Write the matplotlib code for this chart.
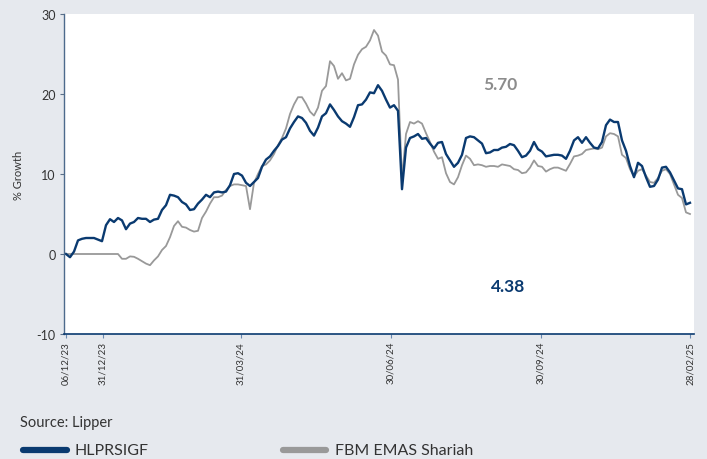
import numpy as np
import matplotlib
matplotlib.use('Agg')
import matplotlib.pyplot as plt
from matplotlib.lines import Line2D

# Crescimento acumulado (%) - leitura do gráfico, um ponto a cada ~1,6 dia útil
fund = [0.0, -0.4, 0.3, 1.7, 1.9, 2.0, 2.0, 2.0, 1.8, 1.6,
        3.6, 4.35, 4.0, 4.5, 4.2, 3.1, 3.8, 4.0, 4.5, 4.4,
        4.4, 4.0, 4.3, 4.4, 5.5, 6.1, 7.4, 7.3, 7.1, 6.5,
        6.2, 5.5, 5.6, 6.3, 6.8, 7.4, 7.1, 7.7, 7.8, 7.7,
        7.8, 8.6, 10.0, 10.1, 9.8, 8.9, 8.5, 9.0, 9.5, 10.9,
        11.8, 12.2, 12.9, 13.5, 14.3, 14.6, 15.7, 16.5, 17.2, 17.0,
        16.4, 15.4, 14.8, 15.8, 17.2, 17.6, 18.7, 18.0, 17.2, 16.6,
        16.3, 15.9, 17.1, 18.6, 18.7, 19.3, 20.2, 20.1, 21.1, 20.4,
        19.3, 18.3, 18.6, 17.9, 8.1, 13.3, 14.5, 14.7, 15.0, 14.4,
        14.5, 13.8, 13.2, 13.9, 14.0, 12.5, 11.7, 10.9, 11.4, 12.4,
        14.5, 14.7, 14.6, 14.2, 13.8, 12.6, 12.7, 13.0, 13.0, 13.3,
        13.4, 13.75, 13.6, 12.9, 12.1, 12.3, 12.9, 14.0, 13.1, 12.8,
        12.2, 12.3, 12.4, 12.4, 12.3, 11.9, 12.9, 14.2, 14.6, 13.9,
        14.6, 13.9, 13.3, 13.2, 14.0, 16.1, 16.8, 16.5, 16.5, 14.2,
        12.9, 11.0, 9.6, 11.4, 11.0, 9.6, 8.4, 8.5, 9.3, 10.8,
        10.9, 10.2, 9.2, 8.2, 8.1, 6.2, 6.4]

bench = [0.0, 0.0, 0.0, 0.0, 0.0, 0.0, 0.0, 0.0, 0.0, 0.0,
         0.0, 0.0, 0.0, 0.0, -0.6, -0.6, -0.3, -0.35, -0.6, -0.9,
         -1.2, -1.4, -0.8, -0.3, 0.5, 1.0, 2.1, 3.5, 4.1, 3.4,
         3.3, 3.0, 2.8, 2.9, 4.5, 5.3, 6.3, 7.1, 7.1, 7.3,
         8.0, 8.5, 8.7, 8.7, 8.6, 8.5, 5.6, 8.9, 10.0, 11.0,
         11.2, 11.7, 12.5, 13.6, 14.5, 15.7, 17.5, 18.7, 19.6, 19.6,
         18.8, 17.8, 17.3, 18.3, 20.4, 21.0, 24.1, 23.5, 21.9, 22.6,
         21.7, 21.9, 23.7, 24.9, 25.6, 25.9, 26.7, 28.0, 27.3, 25.3,
         24.8, 23.7, 23.6, 21.8, 9.3, 15.0, 16.5, 16.3, 16.6, 16.3,
         15.1, 14.0, 12.8, 11.9, 12.1, 10.1, 9.0, 8.7, 9.6, 11.1,
         12.3, 11.9, 11.1, 11.2, 11.1, 10.9, 11.0, 11.0, 10.9, 11.2,
         11.1, 11.0, 10.6, 10.5, 10.1, 10.2, 10.8, 11.7, 11.0, 10.9,
         10.3, 10.6, 10.8, 10.8, 10.6, 10.4, 11.25, 12.2, 12.3, 12.5,
         13.0, 13.1, 13.2, 13.1, 13.3, 14.7, 15.1, 15.0, 14.7, 12.4,
         12.0, 10.6, 9.7, 10.4, 10.6, 9.8, 9.0, 8.9, 9.5, 10.4,
         10.6, 10.0, 8.7, 7.4, 7.0, 5.2, 5.0]

tick_pos = [0, 9.2, 43.7, 81.2, 118.7, 156]
tick_labels = ['06/12/23', '31/12/23', '31/03/24', '30/06/24', '30/09/24', '28/02/25']

fund_name = 'HLPRSIGF'
bench_name = 'FBM EMAS Shariah'
fund_ret = '4.38'
bench_ret = '5.70'

NAVY = '#0a3a70'
GREY = '#999999'
BG = '#e6e9ee'
TXT = '#333333'

plt.rcParams['font.family'] = ['Lato', 'DejaVu Sans']
plt.rcParams['axes.unicode_minus'] = False

fig = plt.figure(figsize=(7.07, 4.60), dpi=100, facecolor=BG)
ax = fig.add_axes([64/707, 1-335/460, 630/707, 320/460])
ax.set_facecolor('white')

x = np.arange(len(fund))
ax.plot(x, bench, color=GREY, lw=1.3)
ax.plot(x, fund, color=NAVY, lw=1.7)

ax.set_xlim(-0.5, 157)
ax.set_ylim(-10, 30)
ax.set_yticks([-10, 0, 10, 20, 30])
ax.tick_params(axis='y', labelsize=9, colors=TXT, length=3, width=0.8, pad=3)
ax.tick_params(axis='y', color='#5a6f88')
ax.set_xticks(tick_pos)
ax.set_xticklabels(tick_labels, rotation=90, fontsize=7, color=TXT)
ax.tick_params(axis='x', length=3, width=0.8, color='#6a8ab0', pad=2)

for s in ['top', 'right']:
    ax.spines[s].set_visible(False)
ax.spines['left'].set_color('#4d6a8c')
ax.spines['bottom'].set_color(NAVY)
ax.spines['left'].set_linewidth(1.0)
ax.spines['bottom'].set_linewidth(1.2)

ax.set_ylabel('% Growth', fontsize=8, color=TXT, labelpad=9)

ax.text(108.5, 21.3, bench_ret, color='#8c8c8c', fontsize=12.5, fontweight='bold', ha='center', va='center')
ax.text(110.5, -4.0, fund_ret, color=NAVY, fontsize=12.5, fontweight='bold', ha='center', va='center')

fig.text(20/707, 1-423/460, 'Source: Lipper', fontsize=10.5, color=TXT, va='center')

fig.add_artist(Line2D([23/707, 67/707], [1-451/460, 1-451/460], color=NAVY, lw=4.5, solid_capstyle='round'))
fig.text(74/707, 1-451/460, fund_name, fontsize=11.5, color=TXT, va='center')
fig.add_artist(Line2D([283/707, 326/707], [1-451/460, 1-451/460], color=GREY, lw=4.5, solid_capstyle='round'))
fig.text(335/707, 1-451/460, bench_name, fontsize=11.5, color=TXT, va='center')

fig.savefig('out.png', dpi=100, facecolor=BG)
